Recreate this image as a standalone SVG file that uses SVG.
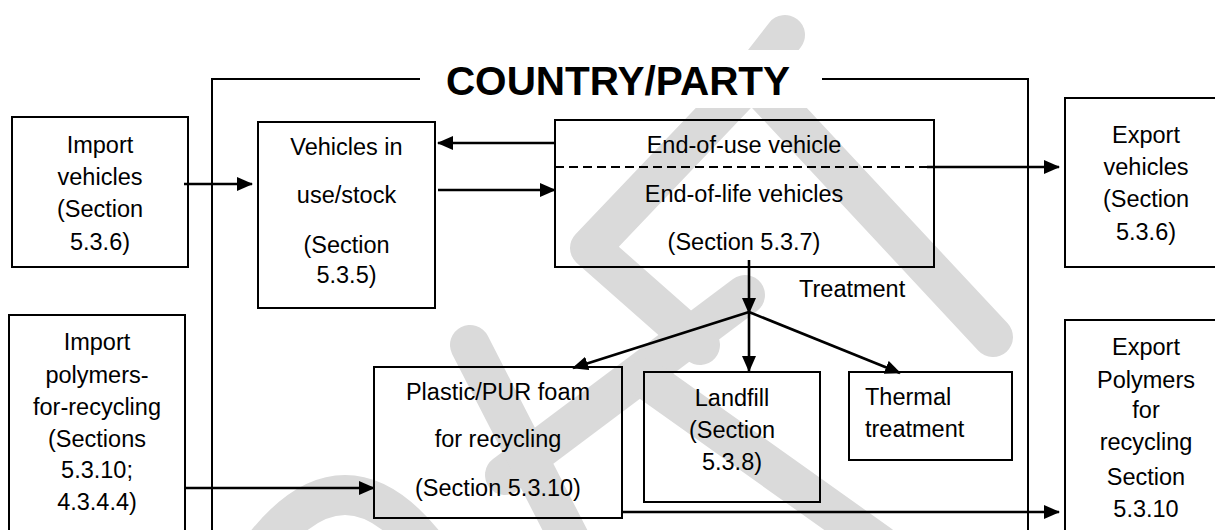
<svg xmlns="http://www.w3.org/2000/svg" width="1215" height="530" viewBox="0 0 1215 530">
<defs>
<style>
.box{fill:none;stroke:#000;stroke-width:2}
.t{font-family:"Liberation Sans",Arial,sans-serif;font-size:23.5px;fill:#000;text-anchor:middle}
.tl{text-anchor:start}
.ln{fill:none;stroke:#000;stroke-width:2}
.cn{fill:none;stroke:#000;stroke-width:2.6}
.wm{fill:none;stroke:#dadada;stroke-width:40;stroke-linecap:round;stroke-linejoin:round}
</style>
<marker id="ah" viewBox="0 0 16 14" refX="15" refY="7" markerWidth="16" markerHeight="14" markerUnits="userSpaceOnUse" orient="auto">
<path d="M0,0 L16,7 L0,14 z" fill="#000"/>
</marker>
</defs>
<rect width="1215" height="530" fill="#fff"/>
<g id="watermark">
<path class="wm" d="M785,35 L750,80 L590,248 L700,345"/>
<path class="wm" d="M758,85 L993,337"/>
<path class="wm" d="M745,295 L505,475"/>
<path class="wm" d="M470,345 L570,540"/>
<path class="wm" d="M645,378 L880,545"/>
<path class="wm" d="M265,545 Q345,445 425,545"/>
<rect x="420" y="50" width="402" height="58" fill="#fff"/>
</g>
<g id="frame">
<path class="ln" d="M420,79 H212 V535"/>
<path class="ln" d="M822,79 H1028 V535"/>
<text x="618" y="95" style="font-family:'Liberation Sans',Arial,sans-serif;font-size:40.5px;font-weight:bold;text-anchor:middle">COUNTRY/PARTY</text>
</g>
<g id="import-vehicles">
<rect class="box" x="12" y="117" width="176" height="150"/>
<text class="t" x="100" y="153">Import</text>
<text class="t" x="100" y="185">vehicles</text>
<text class="t" x="100" y="217">(Section</text>
<text class="t" x="100" y="250">5.3.6)</text>
</g>
<g id="vehicles-in-use">
<rect class="box" x="258" y="122" width="177" height="186"/>
<text class="t" x="346.5" y="155">Vehicles in</text>
<text class="t" x="346.5" y="203">use/stock</text>
<text class="t" x="346.5" y="253">(Section</text>
<text class="t" x="346.5" y="283">5.3.5)</text>
</g>
<g id="end-of-life">
<rect class="box" x="555" y="120" width="379" height="147"/>
<line x1="555" y1="167" x2="927" y2="167" stroke="#000" stroke-width="2" stroke-dasharray="9 5"/>
<text class="t" x="744" y="153">End-of-use vehicle</text>
<text class="t" x="744" y="202">End-of-life vehicles</text>
<text class="t" x="744" y="250">(Section 5.3.7)</text>
</g>
<g id="export-vehicles">
<rect class="box" x="1065" y="98" width="160" height="169"/>
<text class="t" x="1146" y="143">Export</text>
<text class="t" x="1146" y="175">vehicles</text>
<text class="t" x="1146" y="207">(Section</text>
<text class="t" x="1146" y="240">5.3.6)</text>
</g>
<g id="import-polymers">
<rect class="box" x="9" y="315" width="176" height="230"/>
<text class="t" x="97" y="350">Import</text>
<text class="t" x="97" y="383">polymers-</text>
<text class="t" x="97" y="415">for-recycling</text>
<text class="t" x="97" y="447">(Sections</text>
<text class="t" x="97" y="478">5.3.10;</text>
<text class="t" x="97" y="510">4.3.4.4)</text>
</g>
<g id="plastic">
<rect class="box" x="374" y="367" width="248" height="151"/>
<text class="t" x="498" y="400">Plastic/PUR foam</text>
<text class="t" x="498" y="447">for recycling</text>
<text class="t" x="498" y="496">(Section 5.3.10)</text>
</g>
<g id="landfill">
<rect class="box" x="644" y="372" width="176" height="130"/>
<text class="t" x="732" y="406">Landfill</text>
<text class="t" x="732" y="438">(Section</text>
<text class="t" x="732" y="470">5.3.8)</text>
</g>
<g id="thermal">
<rect class="box" x="849" y="372" width="163" height="88"/>
<text class="t tl" x="865" y="405">Thermal</text>
<text class="t tl" x="865" y="437">treatment</text>
</g>
<g id="export-polymers">
<rect class="box" x="1065" y="320" width="160" height="225"/>
<text class="t" x="1146" y="355">Export</text>
<text class="t" x="1146" y="388">Polymers</text>
<text class="t" x="1146" y="418">for</text>
<text class="t" x="1146" y="450">recycling</text>
<text class="t" x="1146" y="485">Section</text>
<text class="t" x="1146" y="517">5.3.10</text>
</g>
<g id="connectors">
<path class="cn" d="M184,184 H252" marker-end="url(#ah)"/>
<path class="cn" d="M555,143 H438" marker-end="url(#ah)"/>
<path class="cn" d="M438,190 H555" marker-end="url(#ah)"/>
<path class="cn" d="M927,167 H1059" marker-end="url(#ah)"/>
<path class="cn" d="M749,260 V313" marker-end="url(#ah)"/>
<path class="cn" d="M749,312 L573,368" marker-end="url(#ah)"/>
<path class="cn" d="M749,312 V371" marker-end="url(#ah)"/>
<path class="cn" d="M749,312 L900,373" marker-end="url(#ah)"/>
<path class="cn" d="M185,488 H374" marker-end="url(#ah)"/>
<path class="cn" d="M622,512 H1059" marker-end="url(#ah)"/>
<text class="t tl" x="799" y="297">Treatment</text>
</g>
</svg>
